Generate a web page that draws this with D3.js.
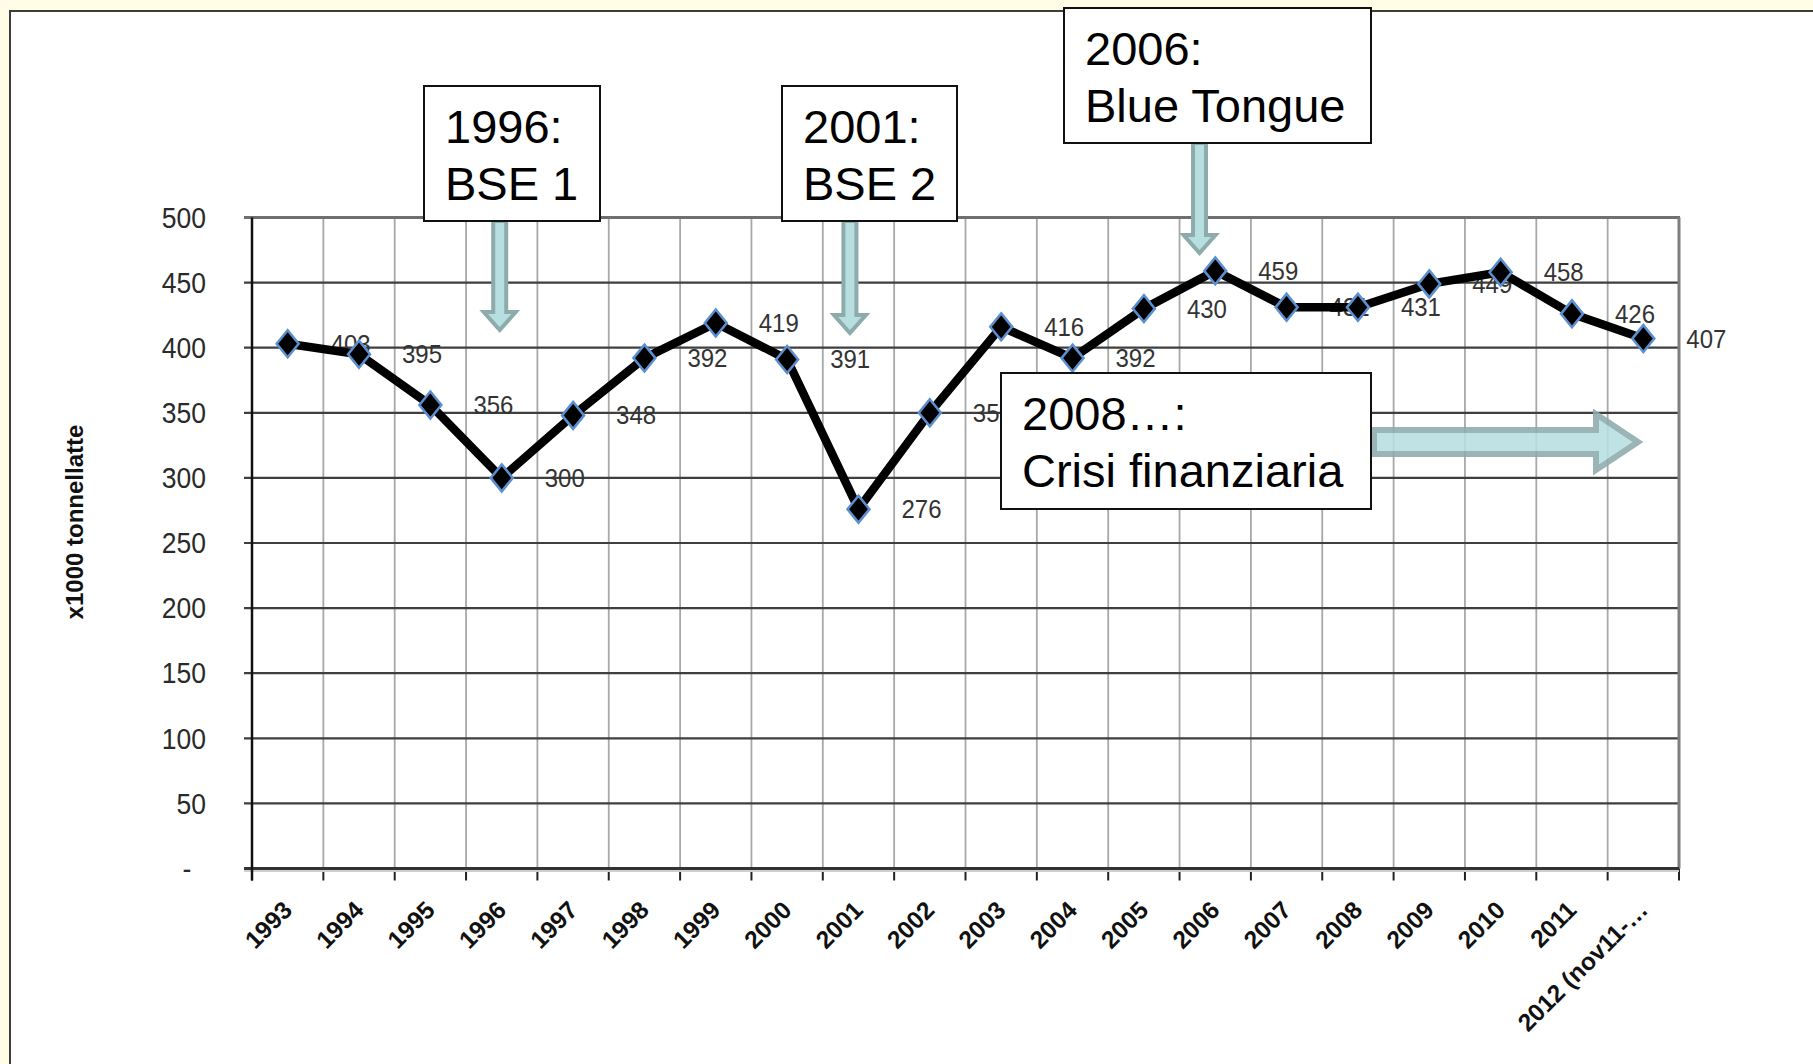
<!DOCTYPE html>
<html>
<head>
<meta charset="utf-8">
<script src="https://cdn.jsdelivr.net/npm/d3@7"></script>
<style>
  html, body { margin: 0; padding: 0; background: #fffde6; }
  svg { display: block; }
  text { font-family: "Liberation Sans", Arial, sans-serif; }
</style>
</head>
<body>
<svg id="chart" width="1813" height="1064"></svg>
<script>
// ---------- data ----------
const categories = ["1993","1994","1995","1996","1997","1998","1999","2000","2001","2002",
                    "2003","2004","2005","2006","2007","2008","2009","2010","2011","2012 (nov11-…"];
const values = [403, 395, 356, 300, 348, 392, 419, 391, 276, 350,
                416, 392, 430, 459, 431, 431, 449, 458, 426, 407];
const yTicks = [0, 50, 100, 150, 200, 250, 300, 350, 400, 450, 500];
const yTickLabels = ["-  ", "50", "100", "150", "200", "250", "300", "350", "400", "450", "500"];
const yAxisTitle = "x1000 tonnellatte";
const noteLines1 = ["1996:", "BSE 1"];
const noteLines2 = ["2001:", "BSE 2"];
const noteLines3 = ["2006:", "Blue Tongue"];
const noteLines4 = ["2008…:", "Crisi finanziaria"];

// ---------- layout ----------
const W = 1813, H = 1064;
const plot = { left: 252, right: 1679, top: 217.5, bottom: 868.5 };

const svg = d3.select("#chart");

// page background & slide panel
svg.append("rect").attr("x", 0).attr("y", 0).attr("width", W).attr("height", H).attr("fill", "#fffde6");
svg.append("rect").attr("x", 10).attr("y", 11).attr("width", W + 20).attr("height", H + 20)
  .attr("fill", "#ffffff").attr("stroke", "#3d3d3d").attr("stroke-width", 2);

const x = d3.scaleBand().domain(categories).range([plot.left, plot.right]).padding(0);
const y = d3.scaleLinear().domain([0, 500]).range([plot.bottom, plot.top]);
const cx = d => x(d) + x.bandwidth() / 2;

const g = svg.append("g");

// vertical gridlines at band boundaries (interior)
const boundaries = categories.map(c => x(c)).concat([plot.right]);
g.selectAll("line.vgrid").data(boundaries.slice(1, -1)).join("line")
  .attr("class", "vgrid")
  .attr("x1", d => d).attr("x2", d => d)
  .attr("y1", plot.top).attr("y2", plot.bottom)
  .attr("stroke", "#a8a8a8").attr("stroke-width", 1.8);

// horizontal gridlines (interior) incl. outside tick
g.selectAll("line.hgrid").data(yTicks.filter(t => t > 0 && t < 500)).join("line")
  .attr("class", "hgrid")
  .attr("x1", plot.left - 8).attr("x2", plot.right)
  .attr("y1", d => y(d)).attr("y2", d => y(d))
  .attr("stroke", "#3f3f3f").attr("stroke-width", 2.2);

// plot border top & right
g.append("line").attr("x1", plot.left - 8).attr("x2", plot.right + 1)
  .attr("y1", y(500)).attr("y2", y(500)).attr("stroke", "#6f6f6f").attr("stroke-width", 3);
g.append("line").attr("x1", plot.right).attr("x2", plot.right)
  .attr("y1", plot.top).attr("y2", plot.bottom).attr("stroke", "#7f7f7f").attr("stroke-width", 3);

// x tick marks
g.selectAll("line.xtick").data(boundaries).join("line")
  .attr("class", "xtick")
  .attr("x1", d => d).attr("x2", d => d)
  .attr("y1", plot.bottom).attr("y2", plot.bottom + 12)
  .attr("stroke", "#222").attr("stroke-width", 2);

// bottom axis
g.append("line").attr("x1", plot.left - 8).attr("x2", plot.right)
  .attr("y1", plot.bottom + 1).attr("y2", plot.bottom + 1)
  .attr("stroke", "#cfcfcf").attr("stroke-width", 5);
g.append("line").attr("x1", plot.left - 8).attr("x2", plot.right)
  .attr("y1", plot.bottom).attr("y2", plot.bottom)
  .attr("stroke", "#333").attr("stroke-width", 3);

// left axis
g.append("line").attr("x1", plot.left).attr("x2", plot.left)
  .attr("y1", plot.top).attr("y2", plot.bottom + 12)
  .attr("stroke", "#111").attr("stroke-width", 2.5);

// y tick labels
g.selectAll("text.ytick").data(yTicks).join("text")
  .attr("class", "ytick")
  .attr("transform", d => `translate(${plot.left - 46},${y(d)}) scale(1,1.1)`)
  .attr("dy", "0.35em").attr("text-anchor", "end")
  .style("white-space", "pre")
  .attr("font-size", 26.5).attr("fill", "#2a2a2a")
  .text((d, i) => yTickLabels[i]);

// x tick labels (rotated)
g.selectAll("text.xtick").data(categories).join("text")
  .attr("class", "xtick")
  .attr("transform", d => `translate(${cx(d) + 6},${plot.bottom + 43}) rotate(-45)`)
  .attr("text-anchor", "end")
  .attr("font-size", 24.5).attr("font-weight", "bold").attr("fill", "#111")
  .text(d => d);

// y axis title
g.append("text")
  .attr("transform", `translate(83,522) rotate(-90)`)
  .attr("text-anchor", "middle")
  .attr("font-size", 24).attr("font-weight", "bold").attr("fill", "#111")
  .text(yAxisTitle);

// data labels (drawn below markers, as in reference)
g.selectAll("text.dlabel").data(values).join("text")
  .attr("class", "dlabel")
  .attr("transform", (d, i) => `translate(${cx(categories[i]) + 43},${y(d)}) scale(1,1.08)`)
  .attr("dy", "0.35em")
  .attr("font-size", 24).attr("fill", "#333")
  .text(d => d);

// series line
const line = d3.line().x((d, i) => cx(categories[i])).y(d => y(d));
g.append("path").datum(values)
  .attr("d", line)
  .attr("fill", "none").attr("stroke", "#000").attr("stroke-width", 8.5)
  .attr("stroke-linejoin", "miter");

// markers (diamonds)
const diamondPath = "M0,-13.5 L11,0 L0,13.5 L-11,0 Z";
g.selectAll("path.marker").data(values).join("path")
  .attr("class", "marker")
  .attr("transform", (d, i) => `translate(${cx(categories[i])},${y(d)})`)
  .attr("d", diamondPath)
  .attr("fill", "#000").attr("stroke", "#5b8fd0").attr("stroke-width", 2.5);

// ---------- annotations ----------
const arrowFill = "#b7dfe2", arrowStroke = "#8eabac";
function downArrow(xc, y0, y1, sw, hw, hl) {
  return `M${xc - sw},${y0} L${xc + sw},${y0} L${xc + sw},${y1 - hl} L${xc + hw},${y1 - hl} L${xc},${y1} L${xc - hw},${y1 - hl} L${xc - sw},${y1 - hl} Z`;
}
function rightArrow(x0, x1, yc, sw, hw, hl) {
  return `M${x0},${yc - sw} L${x1 - hl},${yc - sw} L${x1 - hl},${yc - hw} L${x1},${yc} L${x1 - hl},${yc + hw} L${x1 - hl},${yc + sw} L${x0},${yc + sw} Z`;
}
const bw = x.bandwidth();
const ann = svg.append("g");
ann.append("path").attr("d", downArrow(cx("1996") - 2, 221, 330, 6.5, 16, 18))
  .attr("fill", arrowFill).attr("stroke", arrowStroke).attr("stroke-width", 4);
ann.append("path").attr("d", downArrow(cx("2001") - bw * 0.12, 221, 333, 6.5, 16, 18))
  .attr("fill", arrowFill).attr("stroke", arrowStroke).attr("stroke-width", 4);
ann.append("path").attr("d", downArrow(cx("2006") - bw * 0.22, 143, 253, 6.5, 16, 18))
  .attr("fill", arrowFill).attr("stroke", arrowStroke).attr("stroke-width", 4);
ann.append("path").attr("d", rightArrow(1374, 1638, 442, 12, 28, 42))
  .attr("fill", arrowFill).attr("stroke", arrowStroke).attr("stroke-width", 6).attr("opacity", 0.88);

function noteBox(x0, y0, w, h, lines) {
  ann.append("rect").attr("x", x0).attr("y", y0).attr("width", w).attr("height", h)
    .attr("fill", "#fff").attr("stroke", "#111").attr("stroke-width", 2);
  ann.selectAll(null).data(lines).join("text")
    .attr("x", x0 + 21).attr("y", (d, i) => y0 + 57 + i * 57)
    .attr("font-size", 47).attr("fill", "#000")
    .text(d => d);
}
noteBox(424, 86, 176, 135, noteLines1);
noteBox(782, 86, 175, 135, noteLines2);
noteBox(1064, 8, 307, 135, noteLines3);
noteBox(1001, 373, 370, 136, noteLines4);
</script>
</body>
</html>
